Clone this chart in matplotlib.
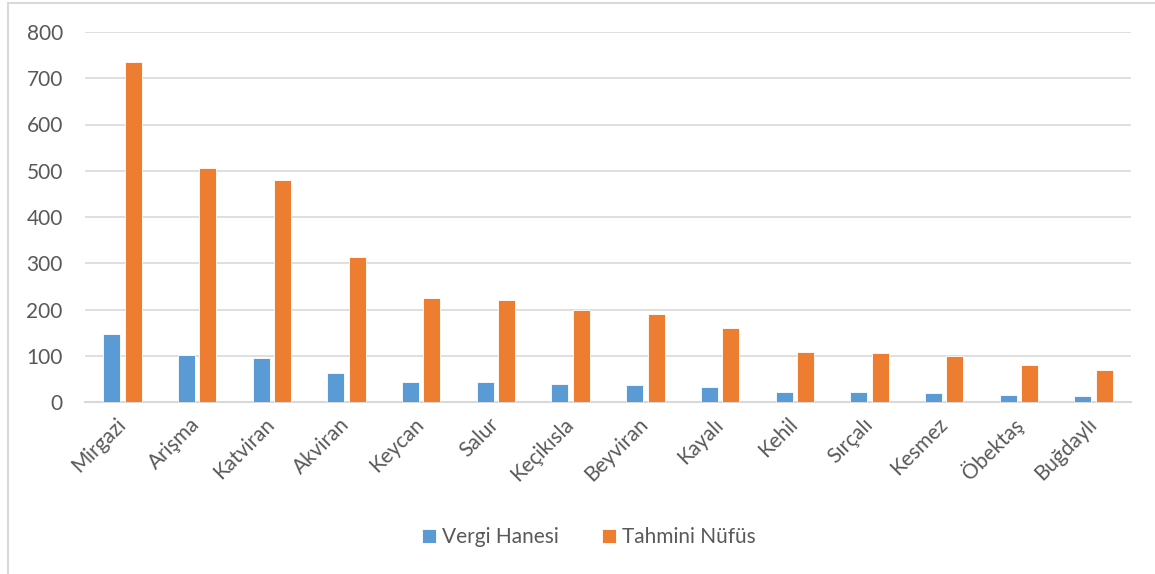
import numpy as np
import matplotlib
matplotlib.use("Agg")
import matplotlib.pyplot as plt
from matplotlib.patches import Rectangle

koyler = ["Mirgazi", "Arişma", "Katviran", "Akviran", "Keycan", "Salur", "Keçikısla",
          "Beyviran", "Kayalı", "Kehil", "Sırçalı", "Kesmez", "Öbektaş", "Buğdaylı"]
vergi_hanesi = [146, 101, 96, 62, 44, 44, 40, 37, 32, 22, 21, 19, 15, 13]
tahmini_nufus = [735, 505, 480, 313, 224, 220, 200, 190, 159, 109, 105, 100, 80, 69]
y_ticks = [0, 100, 200, 300, 400, 500, 600, 700, 800]

plt.rcParams['font.family'] = ['Lato', 'DejaVu Sans']
text_color = '#595959'
grid_color = '#D9D9D9'

fig = plt.figure(figsize=(11.55, 5.74), dpi=100)
W, H = 1155, 574
ax = fig.add_axes([85 / W, 1 - 402 / H, (1131 - 85) / W, (402 - 32) / H])

# chart border
fig.patches.append(Rectangle((8 / W, -0.1), 1.2, 1 - 3 / H + 0.1, transform=fig.transFigure,
                             fill=False, edgecolor=grid_color, linewidth=1.5))

x = np.arange(len(koyler))
w = 0.227
off = 0.143
ax.bar(x - off, vergi_hanesi, w, color='#5B9BD5', edgecolor='white', linewidth=0.6,
       label='Vergi Hanesi', zorder=3)
ax.bar(x + off, tahmini_nufus, w, color='#ED7D31', edgecolor='white', linewidth=0.6,
       label='Tahmini Nüfüs', zorder=3)

ax.set_xlim(-0.5, len(koyler) - 0.5)
ax.set_ylim(0, 800)
ax.set_yticks(y_ticks)
ax.yaxis.grid(True, color=grid_color, linewidth=1.2, zorder=0)
ax.set_axisbelow(True)
for s in ['top', 'right', 'left']:
    ax.spines[s].set_visible(False)
ax.spines['bottom'].set_color(grid_color)
ax.spines['bottom'].set_linewidth(1.5)
ax.tick_params(axis='both', length=0, colors=text_color, labelsize=15)
ax.tick_params(axis='y', pad=16)

ax.set_xticks(x)
ax.set_xticklabels(koyler, rotation=45, ha='right', va='center', rotation_mode='anchor')
ax.tick_params(axis='x', pad=14)

leg = fig.legend(loc='center', bbox_to_anchor=(589 / W, 1 - 537 / H), ncol=2, frameon=False,
                 fontsize=15, handlelength=0.65, handleheight=0.65, columnspacing=2.1,
                 handletextpad=0.3)
for t in leg.get_texts():
    t.set_color(text_color)

fig.savefig('out.png', dpi=100)
